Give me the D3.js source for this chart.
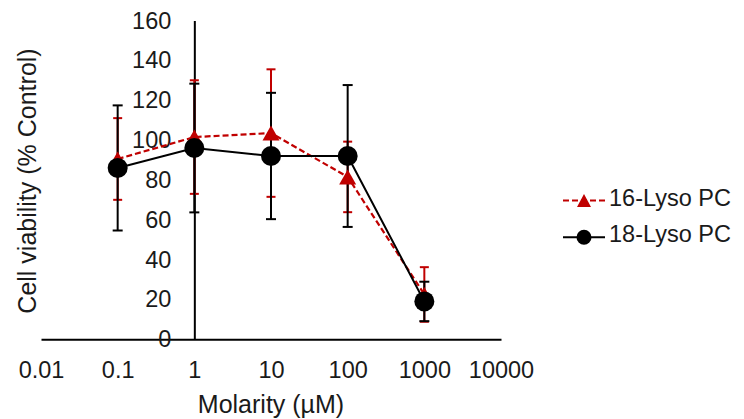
<!DOCTYPE html>
<html>
<head>
<meta charset="utf-8">
<script src="https://cdn.jsdelivr.net/npm/d3@7/dist/d3.min.js"></script>
<style>
  html, body { margin: 0; padding: 0; background: #fff; }
  svg { display: block; }
  text { font-family: "Liberation Sans", Arial, sans-serif; fill: #1a1a1a; }
</style>
</head>
<body>
<svg id="chart" width="744" height="419"></svg>
<script>
// Concentrations (µM) and viability values (% of control) with error bars
const concentrations = [0.1, 1, 10, 100, 1000];
const lyso16Mean = [90.5, 101.5, 103.5, 81.5, 22.5];
const lyso16Err  = [20.5, 28.5, 32, 17.7, 13.7];
const lyso18Mean = [86, 96, 92, 92, 19];
const lyso18Err  = [31.4, 32.3, 31.7, 35.6, 9.9];

const xTickValues = [0.01, 0.1, 1, 10, 100, 1000, 10000];
const xTickLabels = ["0.01", "0.1", "1", "10", "100", "1000", "10000"];
const yTickValues = [0, 20, 40, 60, 80, 100, 120, 140, 160];

const seriesNames = ["16-Lyso PC", "18-Lyso PC"];

const svg = d3.select("#chart");

const x = d3.scaleLog().domain([0.01, 10000]).range([41, 501]);
const y = d3.scaleLinear().domain([0, 160]).range([339.3, 20.5]);

const RED = "#c00000";
const BLACK = "#000000";

// Horizontal axis along y = 0
const xAxis = d3.axisBottom(x)
  .tickValues(xTickValues)
  .tickFormat((d, i) => xTickLabels[i])
  .tickSize(0)
  .tickPadding(22);
const gx = svg.append("g").attr("transform", `translate(0,${y(0)})`).call(xAxis);
gx.select(".domain").attr("stroke", BLACK).attr("stroke-width", 2);
gx.selectAll("text").attr("font-size", 23.5).attr("font-family", "'Liberation Sans', Arial, sans-serif").attr("fill", "#1a1a1a");

// Vertical axis crossing at x = 1
const yAxis = d3.axisLeft(y)
  .tickValues(yTickValues)
  .tickSize(0)
  .tickPadding(23);
const gy = svg.append("g").attr("transform", `translate(${x(1)},0)`).call(yAxis);
gy.select(".domain").attr("stroke", BLACK).attr("stroke-width", 2);
gy.selectAll("text").attr("font-size", 23.5).attr("font-family", "'Liberation Sans', Arial, sans-serif").attr("fill", "#1a1a1a");

// Axis titles
svg.append("text")
  .attr("x", 271).attr("y", 413)
  .attr("text-anchor", "middle")
  .attr("font-size", 25)
  .text("Molarity (µM)");

svg.append("text")
  .attr("transform", "translate(27,181) rotate(-90)")
  .attr("text-anchor", "middle")
  .attr("dominant-baseline", "central")
  .attr("font-size", 25)
  .text("Cell viability (% Control)");

function errorBars(means, errs, color, capHalf) {
  const g = svg.append("g");
  concentrations.forEach((c, i) => {
    const cx = x(c), top = y(means[i] + errs[i]), bot = y(means[i] - errs[i]);
    g.append("line").attr("x1", cx).attr("x2", cx).attr("y1", top).attr("y2", bot)
      .attr("stroke", color).attr("stroke-width", 2);
    [top, bot].forEach(yy => g.append("line")
      .attr("x1", cx - capHalf).attr("x2", cx + capHalf).attr("y1", yy).attr("y2", yy)
      .attr("stroke", color).attr("stroke-width", 2));
  });
}

function trianglePath(cx, cy, w, h) {
  return `M${cx},${cy - h / 2}L${cx + w / 2},${cy + h / 2}L${cx - w / 2},${cy + h / 2}Z`;
}

const line = d3.line().x(d => x(d[0])).y(d => y(d[1]));

// Error bars (red beneath black)
errorBars(lyso16Mean, lyso16Err, RED, 4.5);
errorBars(lyso18Mean, lyso18Err, BLACK, 5);

// 16-Lyso PC: dashed red line with triangles
svg.append("path")
  .datum(concentrations.map((c, i) => [c, lyso16Mean[i]]))
  .attr("d", line)
  .attr("fill", "none").attr("stroke", RED).attr("stroke-width", 2.2)
  .attr("stroke-dasharray", "6,3");
svg.append("g").selectAll("path")
  .data(concentrations.map((c, i) => [c, lyso16Mean[i]]))
  .join("path")
  .attr("d", d => trianglePath(x(d[0]), y(d[1]), 17, 15))
  .attr("fill", RED);

// 18-Lyso PC: solid black line with circles
svg.append("path")
  .datum(concentrations.map((c, i) => [c, lyso18Mean[i]]))
  .attr("d", line)
  .attr("fill", "none").attr("stroke", BLACK).attr("stroke-width", 2);
svg.append("g").selectAll("circle")
  .data(concentrations.map((c, i) => [c, lyso18Mean[i]]))
  .join("circle")
  .attr("cx", d => x(d[0])).attr("cy", d => y(d[1])).attr("r", 10)
  .attr("fill", BLACK);

// Legend
const legend = svg.append("g");
const legendRows = [
  { name: seriesNames[0], color: RED, dash: "6,3", y: 200.5 },
  { name: seriesNames[1], color: BLACK, dash: null, y: 237.3 }
];
legendRows.forEach((r, i) => {
  legend.append("line")
    .attr("x1", 563).attr("x2", 605).attr("y1", r.y).attr("y2", r.y)
    .attr("stroke", r.color).attr("stroke-width", 2)
    .attr("stroke-dasharray", r.dash);
  if (i === 0) {
    legend.append("path").attr("d", trianglePath(584, r.y, 14, 13)).attr("fill", r.color);
  } else {
    legend.append("circle").attr("cx", 584).attr("cy", r.y).attr("r", 7.5).attr("fill", r.color);
  }
  legend.append("text")
    .attr("x", 609).attr("y", r.y - 3)
    .attr("dominant-baseline", "central")
    .attr("font-size", 23.5)
    .text(r.name);
});
</script>
</body>
</html>
